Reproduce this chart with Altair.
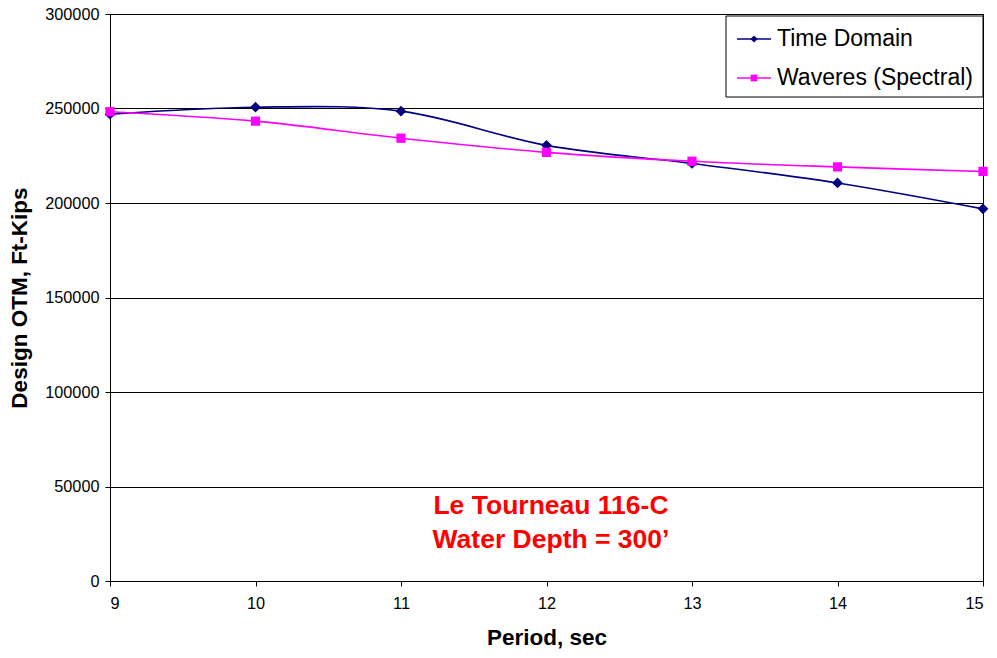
import altair as alt
import pandas as pd

# Wave period (sec) and design overturning moment (ft-kips) for each method
periods = [9, 10, 11, 12, 13, 14, 15]
time_domain = [247000, 250700, 248600, 230500, 220900, 210600, 196900]
waveres = [248300, 243300, 234300, 226800, 222100, 219100, 216700]

series_names = ["Time Domain", "Waveres (Spectral)"]
series_colors = ["#000080", "#FF00FF"]
marker_shapes = ["diamond", "square"]
marker_sizes = [115, 85]
legend_marker_sizes = [52, 45]

rows = []
for name, vals in zip(series_names, [time_domain, waveres]):
    for p, v in zip(periods, vals):
        rows.append({"period": p, "otm": v, "series": name})
df = pd.DataFrame(rows)

FONT = "Liberation Sans"

x_enc = alt.X(
    "period:Q",
    scale=alt.Scale(domain=[9, 15], nice=False, zero=False),
    axis=alt.Axis(
        values=periods, title="Period, sec", grid=False, format="d",
        titleFontSize=22.5, titleFontWeight="bold", titlePadding=15,
        labelFontSize=16.3, labelPadding=9, tickSize=5,
    ),
)
y_enc = alt.Y(
    "otm:Q",
    scale=alt.Scale(domain=[0, 300000], nice=False),
    axis=alt.Axis(
        values=list(range(0, 300001, 50000)), format="d",
        title="Design OTM, Ft-Kips", titleFontSize=22.5, titleFontWeight="bold",
        titlePadding=13, labelFontSize=16.3, labelPadding=6, tickSize=5,
        grid=True, gridColor="#000000", gridOpacity=1, gridWidth=1,
    ),
)
color_scale = alt.Scale(domain=series_names, range=series_colors)
shape_scale = alt.Scale(domain=series_names, range=marker_shapes)
size_scale = alt.Scale(domain=series_names, range=marker_sizes)
leg_size_scale = alt.Scale(domain=series_names, range=legend_marker_sizes)

base = alt.Chart(df)

lines = base.mark_line(interpolate="catmull-rom", strokeWidth=1.6).encode(
    x=x_enc, y=y_enc,
    color=alt.Color("series:N", scale=color_scale, legend=None),
    detail="series:N",
)

points = base.mark_point(filled=True, opacity=1).encode(
    x="period:Q", y="otm:Q",
    color=alt.Color("series:N", scale=color_scale, legend=None),
    shape=alt.Shape("series:N", scale=shape_scale, legend=None),
    size=alt.Size("series:N", scale=size_scale, legend=None),
)

# legend box in the upper right corner of the plot
leg_df = pd.DataFrame({"series": series_names, "idx": list(range(len(series_names)))})
leg_base = alt.Chart(leg_df).transform_calculate(ly="25 + datum.idx * 39")

leg_box = alt.Chart(pd.DataFrame({"k": [0]})).mark_rect(
    fill="#FFFFFF", stroke="#000000", strokeWidth=1
).encode(x=alt.value(616), x2=alt.value(873), y=alt.value(2), y2=alt.value(83))

leg_lines = leg_base.mark_rule(strokeWidth=1.6).encode(
    x=alt.value(627), x2=alt.value(661),
    y=alt.Y("ly:Q", scale=None),
    color=alt.Color("series:N", scale=color_scale, legend=None),
)
leg_marks = leg_base.mark_point(filled=True, opacity=1).encode(
    x=alt.value(644),
    y=alt.Y("ly:Q", scale=None),
    color=alt.Color("series:N", scale=color_scale, legend=None),
    shape=alt.Shape("series:N", scale=shape_scale, legend=None),
    size=alt.Size("series:N", scale=leg_size_scale, legend=None),
)
leg_text = leg_base.mark_text(
    font=FONT, fontSize=23, color="#000000", align="left", baseline="middle"
).encode(
    x=alt.value(667),
    y=alt.Y("ly:Q", scale=None),
    text="series:N",
)

notes = pd.DataFrame({"line": ["Le Tourneau 116-C", "Water Depth = 300\u2019"], "row": [0, 1]})
# the two lines of the annotation stacked one under the other
note_text = alt.Chart(notes).transform_calculate(
    ypix="492 + datum.row * 34"
).mark_text(
    font=FONT, fontSize=26.5, fontWeight="bold", color="#FF0000", align="center", baseline="middle"
).encode(
    x=alt.value(441),
    y=alt.Y("ypix:Q", scale=None),
    text="line:N",
)

chart = alt.layer(
    lines, points, leg_box, leg_lines, leg_marks, leg_text, note_text
).properties(
    width=873, height=567,
    autosize=alt.AutoSizeParams(type="none"),
    padding={"left": 110, "top": 14, "right": 14, "bottom": 77},
).resolve_scale(size="independent").configure(
    font=FONT, background="#FFFFFF",
).configure_view(
    stroke="#000000", strokeWidth=1,
).configure_axis(
    domainColor="#000000", tickColor="#000000", labelColor="#000000",
    titleColor="#000000", labelFont=FONT, titleFont=FONT,
)

chart.save("out.html", embed_options={"renderer": "svg", "actions": False})
